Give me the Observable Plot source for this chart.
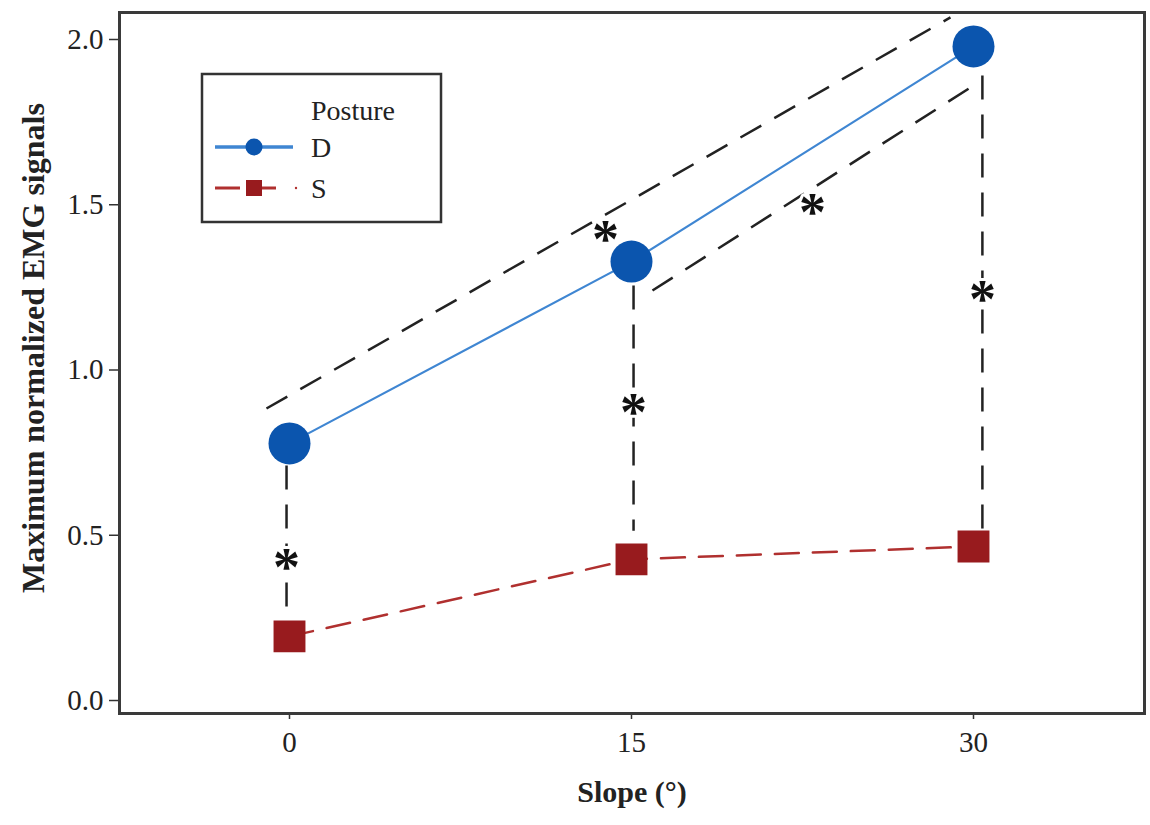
<!DOCTYPE html>
<html>
<head>
<meta charset="utf-8">
<script src="https://cdn.jsdelivr.net/npm/d3@7"></script>
<script src="https://cdn.jsdelivr.net/npm/@observablehq/plot@0.6"></script>
<style>
  html, body { margin: 0; padding: 0; background: white; }
  #wrap { position: relative; width: 1150px; height: 825px; }
  #legend { position: absolute; left: 0; top: 0; pointer-events: none; }
</style>
</head>
<body>
<div id="wrap"></div>
<script>
// ---- data ----
const slopes = [0, 15, 30];
const postureD = [0.778, 1.328, 1.979];
const postureS = [0.194, 0.427, 0.466];
const yTicks = [0, 0.5, 1.0, 1.5, 2.0];
const xTicks = [0, 15, 30];
const postures = ["D", "S"];

// significance brackets (data units)
const bracketX1 = [-1.01, 15.92, -0.13, 15.09, 30.39];
const bracketY1 = [0.8835, 1.2405, 0.711, 1.256, 1.891];
const bracketX2 = [28.99, 29.87, -0.13, 15.09, 30.39];
const bracketY2 = [2.067, 1.855, 0.257, 0.514, 0.514];
const starX = [13.86, 22.94, -0.13, 15.09, 30.39];
const starY = [1.437, 1.519, 0.445, 0.914, 1.256];

// ---- tables ----
const dRows = slopes.map((s, i) => ({slope: s, value: postureD[i]}));
const sRows = slopes.map((s, i) => ({slope: s, value: postureS[i]}));
const brackets = bracketX1.map((x, i) => ({x1: x, y1: bracketY1[i], x2: bracketX2[i], y2: bracketY2[i]}));
const stars = starX.map((x, i) => ({x, y: starY[i]}));

const blueLine = "#3F86D2", blueDot = "#0B55AE";
const redLine = "#B0302F", redDot = "#981B1E";

const chart = Plot.plot({
  width: 1150,
  height: 825,
  marginLeft: 119,
  marginRight: 6,
  marginTop: 12,
  marginBottom: 112,
  x: {domain: [-7.456, 37.5]},
  y: {domain: [-0.0393, 2.0817]},
  style: {fontFamily: "'Liberation Serif', 'DejaVu Serif', serif", background: "white", color: "#222"},
  marks: [
    Plot.axisY(yTicks, {tickSize: 10, tickPadding: 6, fontSize: 29, tickFormat: d => d.toFixed(1), label: null, stroke: "#333", strokeWidth: 1.5}),
    Plot.axisX(xTicks, {tickSize: 6, tickPadding: 12, fontSize: 29, label: null, stroke: "#333", strokeWidth: 1.5}),
    Plot.frame({stroke: "#3a3a3a", strokeWidth: 3}),
    Plot.link(brackets, {x1: "x1", y1: "y1", x2: "x2", y2: "y2", stroke: "#222", strokeWidth: 2.5, strokeDasharray: "24,15"}),
    Plot.line(dRows, {x: "slope", y: "value", stroke: blueLine, strokeWidth: 2.2}),
    Plot.line(sRows, {x: "slope", y: "value", stroke: redLine, strokeWidth: 2.5, strokeDasharray: "24,14"}),
    Plot.dot(dRows, {x: "slope", y: "value", r: 21, fill: blueDot}),
    Plot.dot(sRows, {x: "slope", y: "value", r: 18, symbol: "square", fill: redDot}),
    Plot.text(stars, {x: "x", y: "y", text: () => "*", fontSize: 54, fontWeight: "bold", fill: "#111", stroke: "white", strokeWidth: 6, dy: 14}),
    Plot.text(["Slope (°)"], {frameAnchor: "bottom", dy: 88, fontSize: 30, fontWeight: "bold", fill: "#222"}),
    Plot.text(["Maximum normalized EMG signals"], {frameAnchor: "left", textAnchor: "middle", dx: -86, dy: -15, rotate: -90, fontSize: 32, fontWeight: "bold", fill: "#222"})
  ]
});

const wrap = document.getElementById("wrap");
wrap.appendChild(chart);

// ---- legend overlay ----
const leg = d3.create("svg").attr("id", "legend").attr("width", 1150).attr("height", 825)
  .style("font-family", "'Liberation Serif', serif");
leg.append("rect").attr("x", 202).attr("y", 74).attr("width", 239).attr("height", 148)
  .attr("fill", "white").attr("stroke", "#333").attr("stroke-width", 2.5);
leg.append("text").attr("x", 311).attr("y", 120).attr("font-size", 28).attr("fill", "#222").text("Posture");
// D row
leg.append("line").attr("x1", 215).attr("x2", 293).attr("y1", 147).attr("y2", 147).attr("stroke", blueLine).attr("stroke-width", 3.5);
leg.append("circle").attr("cx", 254).attr("cy", 147).attr("r", 8.5).attr("fill", blueDot);
leg.append("text").attr("x", 311).attr("y", 157).attr("font-size", 28).attr("fill", "#222").text(postures[0]);
// S row
leg.append("line").attr("x1", 215).attr("x2", 278).attr("y1", 188).attr("y2", 188).attr("stroke", redLine).attr("stroke-width", 3).attr("stroke-dasharray", "25,6,30,50");
leg.append("rect").attr("x", 246).attr("y", 180).attr("width", 16).attr("height", 16).attr("fill", redDot);
leg.append("circle").attr("cx", 296).attr("cy", 188).attr("r", 1.2).attr("fill", redLine);
leg.append("text").attr("x", 311).attr("y", 198).attr("font-size", 28).attr("fill", "#222").text(postures[1]);
wrap.appendChild(leg.node());
</script>
</body>
</html>
